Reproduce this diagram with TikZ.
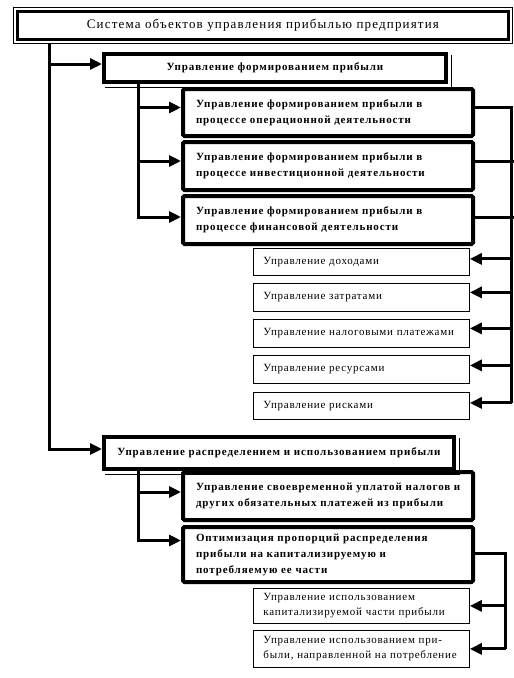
\documentclass[tikz,border=0pt]{standalone}
\usepackage{fontspec}
\setmainfont{Liberation Serif}
\newfontfamily\titlefont[LetterSpace=9]{Liberation Serif}
\newfontfamily\boldfont[LetterSpace=8]{Liberation Serif}
\newfontfamily\smallfont[LetterSpace=7]{Liberation Serif}
\usetikzlibrary{arrows.meta,calc}
\begin{document}
\begin{tikzpicture}[x=1pt,y=-1pt,
  con/.style={line width=3pt},
  arr/.style={line width=3pt,-{Triangle[length=12pt,width=11pt]}},
  thickbox/.style={draw,line width=4pt,rounded corners=1.5pt,anchor=north west,inner sep=0pt,
    minimum width=290pt,text width=270pt,align=left,font=\boldfont\bfseries\fontsize{11}{16}\selectfont},
  headbox/.style={draw,line width=4pt,anchor=north west,inner sep=0pt,align=center,
    font=\boldfont\bfseries\fontsize{11}{16}\selectfont},
  smallbox/.style={draw,line width=0.8pt,anchor=north west,inner sep=0pt,
    minimum width=216pt,text width=206pt,align=left,font=\smallfont\fontsize{11}{15}\selectfont},
  shadow/.style={line width=0.8pt}
]
\useasboundingbox[fill=white] (0,0) rectangle (514,678);

% title
\node[draw,line width=0.8pt,anchor=north west,minimum width=499pt,minimum height=36pt,inner sep=0pt,
  font=\titlefont\fontsize{13}{16}\selectfont] (title) at (13,7)
  {Система объектов управления прибылью предприятия};
\draw[line width=3pt] ($(title.north west)+(4.5,4.5)$) rectangle ($(title.south east)+(-4.5,-4.5)$);

% branch 1
\node[headbox,minimum width=342pt,minimum height=28pt] (form) at (102,52) {Управление формированием прибыли};
\draw[shadow] ($(form.north east)+(3,3)$) |- ($(form.south west)+(3,3)$);

\node[thickbox,minimum height=47pt] (op) at (181,87)
  {\hspace*{3pt}Управление формированием прибыли в\\\hspace*{3pt}процессе операционной деятельности};
\node[thickbox,minimum height=48pt] (inv) at (181,140)
  {\hspace*{3pt}Управление формированием прибыли в\\\hspace*{3pt}процессе инвестиционной деятельности};
\node[thickbox,minimum height=48pt] (fin) at (181,194)
  {\hspace*{3pt}Управление формированием прибыли в\\\hspace*{3pt}процессе финансовой деятельности};

\node[smallbox,minimum height=27pt] (s1) at (253,248) {\hspace*{5pt}Управление доходами};
\node[smallbox,minimum height=28pt] (s2) at (253,283) {\hspace*{5pt}Управление затратами};
\node[smallbox,minimum height=28pt] (s3) at (253,319) {\hspace*{5pt}Управление налоговыми платежами};
\node[smallbox,minimum height=28pt] (s4) at (253,355) {\hspace*{5pt}Управление ресурсами};
\node[smallbox,minimum height=27pt] (s5) at (253,392) {\hspace*{5pt}Управление рисками};

% branch 2
\node[headbox,minimum width=350pt,minimum height=32pt] (dist) at (102,435) {Управление распределением и использованием прибыли};
\draw[shadow] ($(dist.north east)+(3,3)$) |- ($(dist.south west)+(3,3)$);

\node[thickbox,minimum height=48pt] (A) at (181,470)
  {\hspace*{3pt}Управление своевременной уплатой налогов и\\\hspace*{3pt}других обязательных платежей из прибыли};
\node[thickbox,minimum height=55pt] (B) at (181,525)
  {\hspace*{3pt}Оптимизация пропорций распределения\\\hspace*{3pt}прибыли на капитализируемую и\\\hspace*{3pt}потребляемую ее части};

\node[smallbox,minimum height=35pt] (C) at (253,588)
  {\hspace*{5pt}Управление использованием\\\hspace*{5pt}капитализируемой части прибыли};
\node[smallbox,minimum height=37pt] (D) at (253,630)
  {\hspace*{5pt}Управление использованием при-\\\hspace*{5pt}были, направленной на потребление};

% connectors
\draw[arr] ($(title.south west)+(36,0)$) |- ($(form.west)+(0,-4)$);
\draw[arr] ($(title.south west)+(36,0)$) |- ($(dist.west)+(0,-4)$);

\draw[arr] ($(form.south west)+(36,0)$) |- ($(op.west)+(0,-5)$);
\draw[arr] ($(form.south west)+(36,0)$) |- ($(inv.west)+(0,-5)$);
\draw[arr] ($(form.south west)+(36,0)$) |- ($(fin.west)+(0,-3)$);

\draw[con] ($(op.east)+(0,-5)$) -| ($(s5.east)+(42,-3)$);
\draw[con] ($(inv.east)+(0,-5)$) -- ($(inv.east)+(40,-5)$);
\draw[con] ($(fin.east)+(0,-3)$) -- ($(fin.east)+(40,-3)$);
\draw[arr] ($(s1.east)+(42,-3)$) -- ($(s1.east)+(0,-3)$);
\draw[arr] ($(s2.east)+(42,-5)$) -- ($(s2.east)+(0,-5)$);
\draw[arr] ($(s3.east)+(42,-5)$) -- ($(s3.east)+(0,-5)$);
\draw[arr] ($(s4.east)+(42,-4)$) -- ($(s4.east)+(0,-4)$);
\draw[arr] ($(s5.east)+(42,-3)$) -- ($(s5.east)+(0,-3)$);

\draw[arr] ($(dist.south west)+(36,0)$) |- ($(A.west)+(0,-4)$);
\draw[arr] ($(dist.south west)+(36,0)$) |- ($(B.west)+(0,-14)$);

\draw[con] ($(B.east)+(0,-1)$) -| ($(D.east)+(36,0)$);
\draw[arr] ($(C.east)+(36,0)$) -- (C.east);
\draw[arr] ($(D.east)+(36,0)$) -- (D.east);
\end{tikzpicture}
\end{document}
